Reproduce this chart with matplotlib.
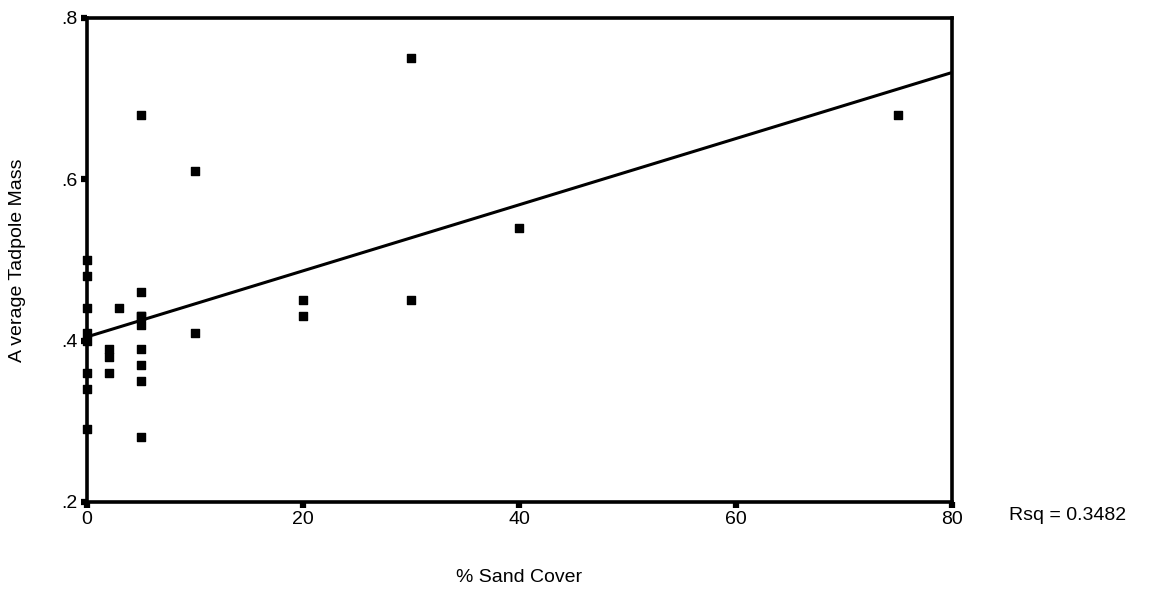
import numpy as np
import matplotlib
matplotlib.use("Agg")
import matplotlib.pyplot as plt

plt.rcParams['font.family'] = ['Liberation Sans', 'DejaVu Sans']

# % sand cover and average tadpole mass
sand = [0, 0, 0, 0, 0, 0, 0, 0,
        2, 2, 2, 3,
        5, 5, 5, 5, 5, 5, 5, 5, 5,
        10, 10, 20, 20, 30, 30, 40, 75]
mass = [0.50, 0.48, 0.44, 0.41, 0.40, 0.36, 0.34, 0.29,
        0.39, 0.38, 0.36, 0.44,
        0.68, 0.46, 0.43, 0.42, 0.39, 0.37, 0.35, 0.28, 0.43,
        0.61, 0.41, 0.45, 0.43, 0.75, 0.45, 0.54, 0.68]

xticks = [0, 20, 40, 60, 80]
yticks = [0.2, 0.4, 0.6, 0.8]
ylabels = ['.2', '.4', '.6', '.8']

fig = plt.figure(figsize=(11.55, 5.9), dpi=100)
ax = fig.add_axes([0.0753, 0.1492, 0.8242 - 0.0753, 0.9695 - 0.1492])

ax.scatter(sand, mass, marker='s', s=34, color='black', clip_on=False, zorder=3)

# linear fit line
b, a = np.polyfit(sand, mass, 1)
xs = np.array([0, 80])
ax.plot(xs, a + b * xs, color='black', lw=2.2, zorder=2)

ax.set_xlim(0, 80)
ax.set_ylim(0.2, 0.8)
ax.set_xticks(xticks)
ax.set_yticks(yticks)
ax.set_yticklabels(ylabels)
ax.tick_params(direction='out', length=4.5, width=4.5, labelsize=14, pad=2)
for s in ax.spines.values():
    s.set_linewidth(2.6)

fig.text(18 / 1155, 1 - 260 / 590, 'A verage Tadpole Mass', fontsize=14,
         rotation=90, ha='center', va='center')
fig.text(519 / 1155, 1 - 578 / 590, '% Sand Cover', fontsize=14, ha='center', va='center')
fig.text(1009 / 1155, 1 - 516 / 590, 'Rsq = 0.3482', fontsize=14, va='center', ha='left')

fig.savefig('out.png', dpi=100)
